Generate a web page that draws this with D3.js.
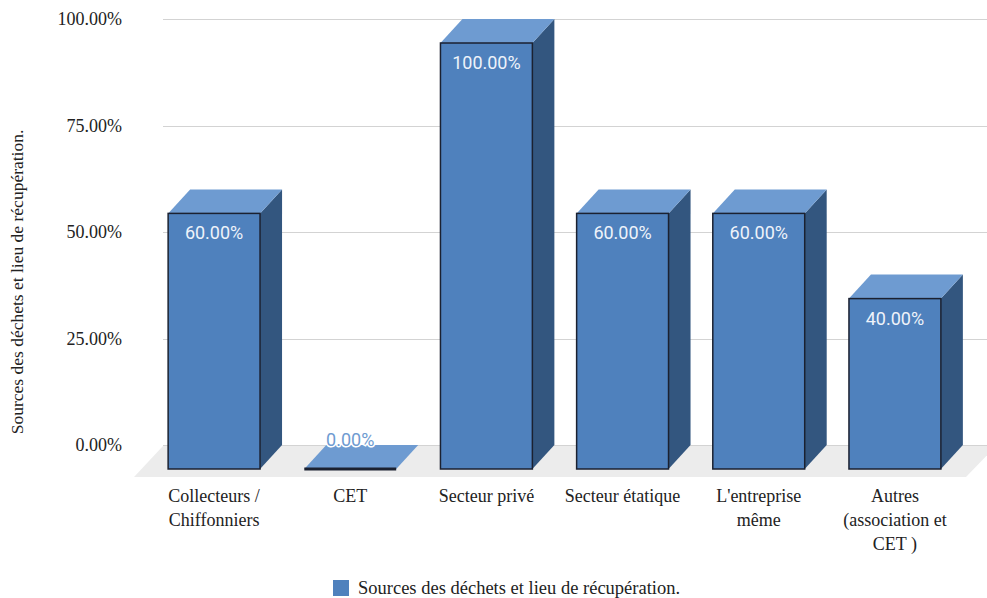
<!DOCTYPE html>
<html>
<head>
<meta charset="utf-8">
<script src="https://cdn.jsdelivr.net/npm/d3@7"></script>
<style>
  html, body { margin: 0; padding: 0; background: #ffffff; }
  svg { display: block; }
</style>
</head>
<body>
<svg id="chart" width="987" height="598"></svg>
<script>
// Chart data
const categories = [
  ["Collecteurs /", "Chiffonniers"],
  ["CET"],
  ["Secteur privé"],
  ["Secteur étatique"],
  ["L'entreprise", "même"],
  ["Autres", "(association et", "CET )"]
];
const values = [0.60, 0.00, 1.00, 0.60, 0.60, 0.40];
const yTicks = [0, 0.25, 0.5, 0.75, 1.0];
const seriesName = "Sources des déchets et lieu de récupération.";
const axisTitle = "Sources des déchets et lieu de récupération.";

const W = 987, H = 598;
const serif = "'Liberation Serif', 'Times New Roman', serif";
const sans = "Roboto, 'DejaVu Sans', sans-serif";

const colFront = "#4f81bd", colTop = "#6e9bd1", colSide = "#33567f", colEdge = "#1b2130";

// 3D depth offset between the back plane (grid) and the bar front faces
const depthX = 22, depthY = 24;

const svg = d3.select("#chart");

// Back-plane value scale (gridlines live here)
const yBack = d3.scaleLinear().domain([0, 1]).range([445, 19]);
const yFront = v => yBack(v) + depthY;

const ids = categories.map((c, i) => i);
const x = d3.scaleBand()
  .domain(ids)
  .range([146, 963])
  .paddingInner(0.325)
  .paddingOuter(0.1625);

// Floor
const floorBack = yBack(0) + 1, floorFront = yFront(0) + 8;
svg.append("path")
  .attr("d", d3.line()([[163, floorBack], [996, floorBack], [966, floorFront], [134, floorFront]]) + "Z")
  .attr("fill", "#ececec");

// Gridlines on the back plane
svg.append("g")
  .selectAll("line")
  .data(yTicks)
  .join("line")
  .attr("x1", 163).attr("x2", W)
  .attr("y1", d => Math.round(yBack(d)) + 0.5)
  .attr("y2", d => Math.round(yBack(d)) + 0.5)
  .attr("stroke", "#d3d3d3")
  .attr("stroke-width", 1);

// Y axis tick labels
const yAxis = d3.axisLeft(yBack)
  .tickValues(yTicks)
  .tickFormat(d3.format(".2%"))
  .tickSize(0)
  .tickPadding(0);
const yg = svg.append("g").attr("transform", "translate(122,0)").call(yAxis);
yg.select(".domain").remove();
yg.selectAll("text")
  .attr("font-family", serif)
  .attr("font-size", 18)
  .attr("fill", "#222");

// Bars
const bars = svg.append("g").selectAll("g.bar")
  .data(ids)
  .join("g")
  .attr("class", "bar");

bars.each(function(i) {
  const g = d3.select(this);
  const x0 = x(i), x1 = x(i) + x.bandwidth();
  const yt = yFront(values[i]), yb = yFront(0);
  // right side face
  if (values[i] > 0) {
    g.append("path")
      .attr("d", d3.line()([[x1, yt], [x1 + depthX, yt - depthY], [x1 + depthX, yb - depthY], [x1, yb]]) + "Z")
      .attr("fill", colSide);
  }
  // top face
  g.append("path")
    .attr("d", d3.line()([[x0, yt], [x0 + depthX, yt - depthY], [x1 + depthX, yt - depthY], [x1, yt]]) + "Z")
    .attr("fill", colTop);
  // front face
  if (values[i] > 0) {
    g.append("rect")
      .attr("x", x0).attr("y", yt)
      .attr("width", x.bandwidth()).attr("height", yb - yt)
      .attr("fill", colFront)
      .attr("stroke", colEdge)
      .attr("stroke-width", 1.5);
  } else {
    g.append("line")
      .attr("x1", x0).attr("x2", x1)
      .attr("y1", yb).attr("y2", yb)
      .attr("stroke", colEdge)
      .attr("stroke-width", 3);
  }
});

// Value labels
svg.append("g").selectAll("text")
  .data(ids)
  .join("text")
  .attr("x", i => x(i) + x.bandwidth() / 2)
  .attr("y", i => values[i] > 0 ? yFront(values[i]) + 26 : yFront(values[i]) - 23)
  .attr("text-anchor", "middle")
  .attr("font-family", sans)
  .attr("font-size", 18)
  .attr("fill", i => values[i] > 0 ? "#eef3fa" : "#6e9bd1")
  .attr("stroke", i => values[i] > 0 ? "none" : "#ffffff")
  .attr("stroke-width", 3)
  .attr("paint-order", "stroke")
  .text(i => d3.format(".2%")(values[i]));

// Category labels
const xl = svg.append("g").selectAll("text")
  .data(ids)
  .join("text")
  .attr("x", i => x(i) + x.bandwidth() / 2)
  .attr("y", 502)
  .attr("text-anchor", "middle")
  .attr("font-family", serif)
  .attr("font-size", 18)
  .attr("fill", "#222");
xl.selectAll("tspan")
  .data(i => categories[i].map(t => ({ t, x: x(i) + x.bandwidth() / 2 })))
  .join("tspan")
  .attr("x", d => d.x)
  .attr("dy", (d, k) => k === 0 ? 0 : 24)
  .text(d => d.t);

// Y axis title
svg.append("text")
  .attr("transform", "translate(23,282) rotate(-90)")
  .attr("text-anchor", "middle")
  .attr("font-family", serif)
  .attr("font-size", 17.5)
  .attr("fill", "#222")
  .text(axisTitle);

// Legend
const lg = svg.append("g").attr("transform", "translate(333,580)");
lg.append("rect").attr("width", 16).attr("height", 16).attr("fill", colFront);
lg.append("text")
  .attr("x", 25).attr("y", 14)
  .attr("font-family", serif)
  .attr("font-size", 18.5)
  .attr("fill", "#222")
  .text(seriesName);
</script>
</body>
</html>
